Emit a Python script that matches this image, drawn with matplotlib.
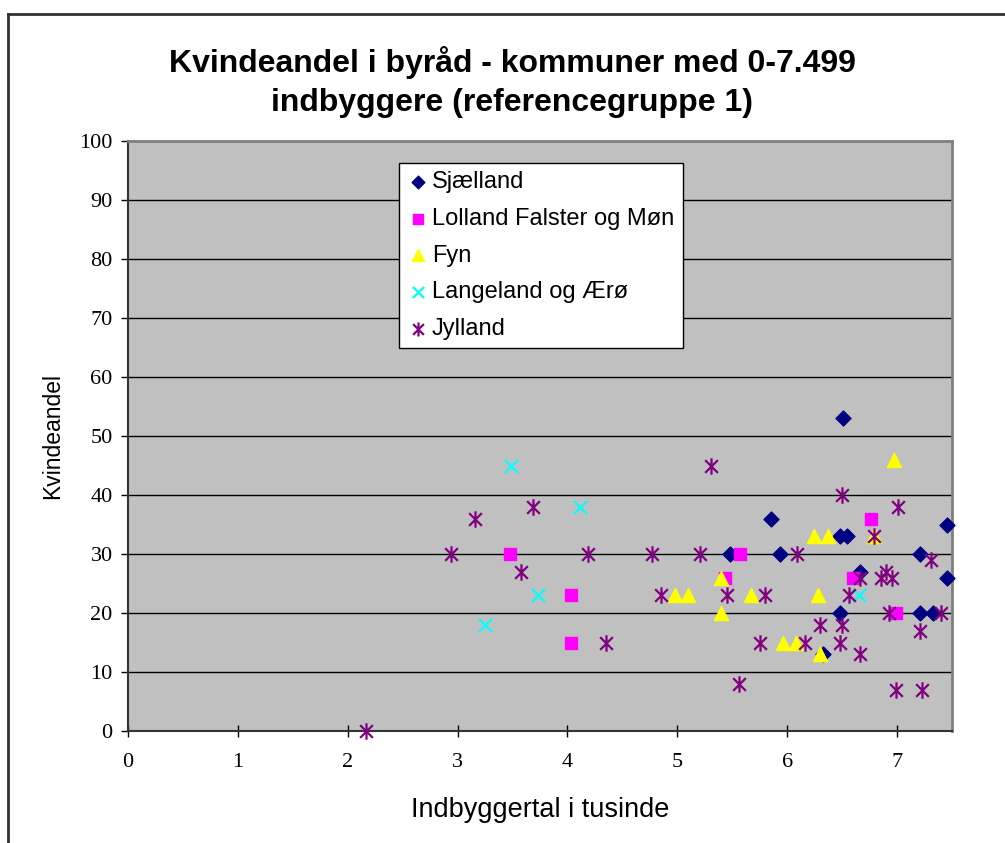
import matplotlib
matplotlib.use("Agg")
import matplotlib.pyplot as plt
from matplotlib.path import Path
from matplotlib.lines import Line2D

# ---- data ----
sjaelland_x = [6.51, 5.85, 7.45, 6.48, 6.54, 5.48, 5.93, 7.21, 7.45, 6.66, 6.48, 7.21, 7.33, 6.33]
sjaelland_y = [53, 36, 35, 33, 33, 30, 30, 30, 26, 27, 20, 20, 20, 13]

lolland_x = [3.48, 4.03, 4.03, 5.57, 5.43, 6.76, 6.60, 6.99]
lolland_y = [30, 23, 15, 30, 26, 36, 26, 20]

fyn_x = [4.98, 5.10, 5.40, 5.40, 5.67, 6.24, 6.37, 6.79, 6.28, 5.96, 6.08, 6.30, 6.97]
fyn_y = [23, 23, 26, 20, 23, 33, 33, 33, 23, 15, 15, 13, 46]

langeland_x = [3.49, 4.11, 3.73, 3.25, 6.65]
langeland_y = [45, 38, 23, 18, 23]

jylland_x = [2.17, 2.94, 3.16, 3.69, 4.19, 4.77, 5.21, 3.58, 4.85, 4.35, 5.31, 6.50, 7.01,
             6.79, 6.09, 7.31, 6.66, 6.85, 6.90, 6.95, 5.45, 5.80, 6.56, 6.93, 7.40, 6.30,
             6.50, 7.21, 5.75, 6.16, 6.48, 6.66, 5.56, 6.99, 7.23]
jylland_y = [0, 30, 36, 38, 30, 30, 30, 27, 23, 15, 45, 40, 38,
             33, 30, 29, 26, 26, 27, 26, 23, 23, 23, 20, 20, 18,
             18, 17, 15, 15, 15, 13, 8, 7, 7]

series_names = ["Sjælland", "Lolland Falster og Møn", "Fyn", "Langeland og Ærø", "Jylland"]
x_ticks = [0, 1, 2, 3, 4, 5, 6, 7]
y_ticks = [0, 10, 20, 30, 40, 50, 60, 70, 80, 90, 100]

# star marker: X plus a vertical line
star = Path([(-1, -1), (1, 1), (-1, 1), (1, -1), (0, -1.3), (0, 1.3)],
            [Path.MOVETO, Path.LINETO, Path.MOVETO, Path.LINETO, Path.MOVETO, Path.LINETO])

fig = plt.figure(figsize=(10.05, 8.43), dpi=100)
fig.patch.set_facecolor("white")

# outer chart frame (top and left edges visible)
fig.add_artist(Line2D([8/1005, 1.0], [1 - 14/843, 1 - 14/843], color="#333333", lw=2.0,
                      transform=fig.transFigure))
fig.add_artist(Line2D([8/1005, 8/1005], [0, 1 - 14/843], color="#333333", lw=2.0,
                      transform=fig.transFigure))

ax = fig.add_axes([128/1005, 1 - 731/843, (952 - 128)/1005, (731 - 141)/843])
ax.set_facecolor("#C0C0C0")
ax.set_xlim(0, 7.5)
ax.set_ylim(0, 100)
ax.set_xticks(x_ticks)
ax.set_yticks(y_ticks)
for y in y_ticks[1:-1]:
    ax.axhline(y, color="black", lw=1.0, zorder=1)

serif = "Liberation Serif"
ax.set_xticklabels([str(t) for t in x_ticks], fontfamily=serif, fontsize=16)
ax.set_yticklabels([str(t) for t in y_ticks], fontfamily=serif, fontsize=16)
ax.tick_params(axis="x", direction="inout", length=8, width=1, pad=12, colors="black")
ax.tick_params(axis="y", direction="out", length=5, width=1, pad=6, colors="black")

for s in ["left", "bottom"]:
    ax.spines[s].set_color("#333333")
    ax.spines[s].set_linewidth(1.5)
for s in ["right", "top"]:
    ax.spines[s].set_color("#808080")
    ax.spines[s].set_linewidth(2)

ms = 8
ax.scatter(sjaelland_x, sjaelland_y, marker="D", s=ms**2 * 0.9, color="#000080", zorder=3,
           label=series_names[0], clip_on=False)
ax.scatter(lolland_x, lolland_y, marker="s", s=ms**2 * 1.0, color="#FF00FF", zorder=3,
           label=series_names[1], clip_on=False)
ax.scatter(fyn_x, fyn_y, marker="^", s=ms**2 * 1.6, color="#FFFF00", zorder=3,
           label=series_names[2], clip_on=False)
ax.scatter(langeland_x, langeland_y, marker="x", s=ms**2 * 1.4, color="#00FFFF", linewidths=1.6,
           zorder=3, label=series_names[3], clip_on=False)
ax.scatter(jylland_x, jylland_y, marker=star, s=ms**2 * 2.2, color="#800080", linewidths=1.6,
           zorder=3, label=series_names[4], clip_on=False)

sans = "Liberation Sans"
leg = ax.legend(loc="upper left", bbox_to_anchor=((399 - 128) / 824, 1 - (163 - 141) / 590),
                prop={"family": sans, "size": 17}, frameon=True, fancybox=False,
                edgecolor="black", framealpha=1, borderpad=0.35, labelspacing=0.62,
                handletextpad=0.15, handlelength=0.9, markerscale=0.85, borderaxespad=0)
leg.get_frame().set_linewidth(1.0)
leg.set_zorder(5)

ax.set_ylabel("Kvindeandel", fontfamily=sans, fontsize=16.5)
ax.yaxis.set_label_coords((64 - 128) / 824, 0.5)
ax.set_xlabel("Indbyggertal i tusinde", fontfamily=sans, fontsize=19.5)
ax.xaxis.set_label_coords(0.5, (731 - 797) / 590)

fig.text(512/1005, 1 - 82/843, "Kvindeandel i byråd - kommuner med 0-7.499\nindbyggere (referencegruppe 1)",
         ha="center", va="center", fontfamily=sans, fontweight="bold", fontsize=23,
         linespacing=1.42)

fig.savefig("out.png", dpi=100, facecolor="white")
